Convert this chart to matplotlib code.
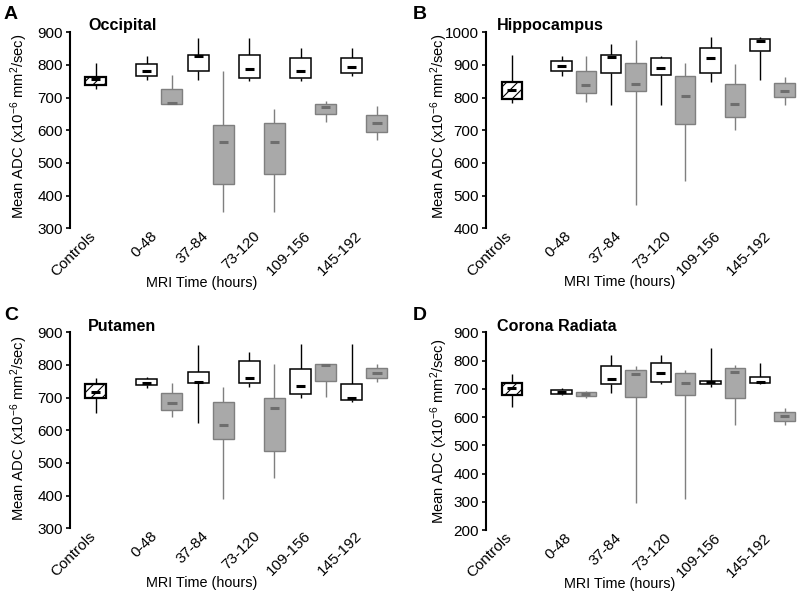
import matplotlib
matplotlib.use("Agg")
import matplotlib.pyplot as plt

plt.rcParams['font.family'] = ['Liberation Sans', 'DejaVu Sans']
plt.rcParams['mathtext.fontset'] = 'custom'
plt.rcParams['mathtext.rm'] = 'Liberation Sans'
plt.rcParams['mathtext.it'] = 'Liberation Sans:italic'
plt.rcParams['hatch.linewidth'] = 0.8

categories = ["Controls", "0-48", "37-84", "73-120", "109-156", "145-192"]

# each row: whisker low, q1, median, q3, whisker high
# white boxes include Controls first, gray boxes start at 0-48
occ_white = [[725, 739, 757, 764, 805], [754, 767, 783, 803, 826], [754, 782, 826, 831, 882],
             [751, 761, 787, 831, 882], [751, 759, 783, 820, 851], [767, 774, 793, 820, 851]]
occ_gray = [[680, 680, 683, 725, 769], [351, 436, 565, 616, 782], [351, 465, 565, 621, 664],
            [624, 649, 672, 681, 690], [570, 596, 621, 647, 674]]

hip_white = [[783, 795, 823, 849, 931], [866, 883, 898, 913, 926], [776, 874, 923, 929, 964],
             [778, 869, 890, 920, 928], [849, 874, 920, 951, 985], [854, 944, 974, 979, 985]]
hip_gray = [[786, 813, 839, 883, 926], [471, 821, 842, 905, 976], [546, 718, 806, 866, 905],
            [701, 740, 781, 841, 903], [778, 801, 821, 844, 864]]

put_white = [[654, 700, 718, 741, 759], [731, 738, 746, 756, 764], [621, 746, 749, 777, 861],
             [732, 744, 759, 813, 839], [700, 711, 736, 789, 864], [688, 693, 700, 742, 864]]
put_gray = [[642, 662, 683, 713, 744], [390, 572, 616, 688, 734], [453, 538, 667, 698, 802],
            [703, 752, 801, 802, 802], [747, 761, 774, 790, 803]]

cor_white = [[637, 678, 702, 719, 751], [679, 683, 690, 697, 704], [684, 718, 735, 780, 820],
             [716, 725, 757, 790, 820], [706, 718, 723, 728, 846], [716, 721, 725, 743, 790]]
cor_gray = [[666, 673, 682, 690, 693], [294, 670, 752, 767, 782], [308, 678, 719, 757, 765],
            [572, 666, 761, 772, 784], [572, 586, 602, 617, 631]]

panels = [
    ("A", "Occipital", occ_white, occ_gray, (300, 900), [70, 32.3, 328, 196], 0.52),
    ("B", "Hippocampus", hip_white, hip_gray, (400, 1000), [486, 32.3, 314, 196], 0.52),
    ("C", "Putamen", put_white, put_gray, (300, 900), [70, 332.3, 328, 196], 0.51),
    ("D", "Corona Radiata", cor_white, cor_gray, (200, 900), [486, 332.3, 314, 197.7], 0.50),
]

W, H = 800, 591
BOX_W = 0.41
GRAY = "#a9a9a9"
GRAY_EDGE = "#7f7f7f"


def draw_box(ax, x, stats, face, edge, med_color, lw, hatch=None, whisk_color="black"):
    lo, q1, med, q3, hi = stats
    ax.vlines(x, lo, q1, color=whisk_color, lw=1.0, zorder=1)
    ax.vlines(x, q3, hi, color=whisk_color, lw=1.0, zorder=1)
    ax.bar(x, q3 - q1, bottom=q1, width=BOX_W, color=face, edgecolor=edge,
           linewidth=lw, hatch=hatch, zorder=2)
    ax.hlines(med, x - 0.09, x + 0.09, color=med_color, lw=2.2, zorder=3)


fig = plt.figure(figsize=(8, 5.91), dpi=100)

for letter, title, white, gray, ylim, (px, py, pw, ph), ylab_y in panels:
    ax = fig.add_axes([px / W, 1 - (py + ph) / H, pw / W, ph / H])
    for i, st in enumerate(white):
        if i == 0:
            draw_box(ax, i, st, "white", "black", "black", 1.6, hatch="///")
        else:
            draw_box(ax, i, st, "white", "black", "black", 1.1)
    for i, st in enumerate(gray):
        draw_box(ax, i + 1.49, st, GRAY, GRAY_EDGE, "#6e6e6e", 1.0, whisk_color=GRAY_EDGE)

    ax.set_ylim(*ylim)
    ax.set_yticks(range(ylim[0], ylim[1] + 1, 100))
    left = letter in ("A", "C")
    if left:
        ax.set_xlim(-0.5, 5.9)
    else:
        ax.set_xlim(-0.52, 5.8)
    for s in ("top", "right", "bottom"):
        ax.spines[s].set_visible(False)
    ax.spines["left"].set_linewidth(1.5)
    ax.tick_params(axis="y", direction="out", length=3, width=1.2, labelsize=11, pad=2)
    ax.tick_params(axis="x", length=0, labelsize=11, pad=4)
    ax.set_xticks([-0.05, 1.16, 2.16, 3.16, 4.16, 5.16])
    ax.set_xticklabels(categories, rotation=45, ha="right", va="center", rotation_mode="anchor")
    ax.set_ylabel("Mean ADC (x10$^{-6}$ mm$^2$/sec)", fontsize=10.6)
    ax.set_xlabel("MRI Time (hours)", fontsize=10.4)
    if left:
        ax.yaxis.set_label_coords(-0.122, ylab_y)
        ax.xaxis.set_label_coords(0.40, -0.243)
    else:
        ax.yaxis.set_label_coords(-0.114, ylab_y)
        ax.xaxis.set_label_coords(0.427, -0.24)

    tx = 88 if left else 497
    ty = 30 if letter in ("A", "B") else 331
    fig.text(tx / W, 1 - ty / H, title, fontsize=11.6, fontweight="bold", va="baseline")
    lx = 4 if left else 413
    ly = 19 if letter in ("A", "B") else 320
    fig.text(lx / W, 1 - ly / H, letter, fontsize=14, fontweight="bold", va="baseline")

fig.savefig("out.png", dpi=100)
